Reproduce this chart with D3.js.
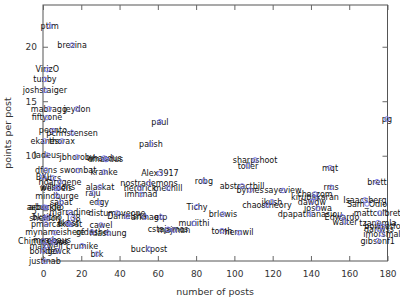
<!DOCTYPE html>
<html><head><meta charset="utf-8">
<script src="https://cdn.jsdelivr.net/npm/d3@7/dist/d3.min.js"></script>
<style>body{margin:0;background:#fff}</style>
</head><body>
<svg id="c" width="400" height="300"></svg>
<script>
const names = ["ptim","brezina","VirizO","tunby","joshstaiger","mabragg","jeydon","fiftyone","pegnto","pchristensen",
"ekanes","thorax","ladeus","jbhoroby","whacdus","rmasdus","dfens","swombat","kranke","BXL",
"vtcs","hoarygene","wllsdons","wellbeis","alaskat","nostrademons","herdrick","mechill","imhmad","mindburge",
"raju","edgy","sabat","arbuckle","arbundio","marradine","distumoveone","Danielsha","arkhag","etp",
"sheldon","bkeitho","138","pmarca","ekost","fkoset","cawel","mynameishere","gfdashe","fdashung",
"Chimmerous","mrmbaus","naraos","maxwell","crumike","borkgo","dewck","brk","justinab","buckpost",
"paul","palish","Alex3917","robg","abstractbill","sharpshoot","toller","byrnes","sayeview","Tichy",
"brlewis","muriithi","tomh","hernwil","cstajames","majman","mqt","rms","chaszom","kirubakaran",
"jkush","chaostheory","dawdw","joshwa","dpapathanasiou","mattculbreth","Edwardo","walter","pg","brett",
"Isaacsberg","Sam_Odio","tzanemla","bowsetfo","danwss","imorsmal","gibsonf1"];
const posts = [3.5,15.2,2.2,1.0,1.0,3.1,17.8,2.1,5.2,15.2,
0.9,9.9,2.1,17.8,31.9,32.9,1.6,18.3,31.9,0.2,
5.2,8.9,7.8,6.8,29.8,55.4,50.7,65.3,51.2,7.3,
26.1,29.3,9.4,0.5,1.6,14.1,38.7,43.9,53.3,61.6,
1.0,2.1,15.7,1.6,13.1,14.1,30.3,6.3,25.6,34.0,
0.2,4.7,5.7,1.6,20.4,0.2,7.8,28.2,1.0,55.4,
61.1,56.4,61.1,84.1,104,110.8,107.1,108.2,125.4,80.5,
94.0,78.9,93.5,102.4,65.3,68.4,150,150.5,142.1,142.1,
119.6,117,140.5,143.7,139.5,176,156.2,157.8,179.7,174.5,
168.2,169.3,175,177.4,175.5,177.1,174.9];
const ppp = [21.9,20.15,17.9,17.0,16.0,14.3,14.3,13.5,12.3,12.1,
11.35,11.35,10.06,9.88,9.79,9.65,8.69,8.64,8.5,8.05,
7.96,7.59,7.08,6.99,7.13,7.45,7.04,7.04,6.44,6.33,
6.58,5.69,5.69,5.29,5.25,4.79,4.74,4.42,4.38,4.38,
4.28,4.37,4.28,3.73,3.78,3.7,3.64,2.94,3.0,2.91,
2.17,2.26,2.08,1.74,1.74,1.28,1.28,0.98,0.32,1.44,
13.12,11.05,8.39,7.68,7.22,9.61,9.08,6.85,6.81,5.32,
4.65,3.8,3.12,2.94,3.25,3.18,8.9,7.1,6.49,6.17,
5.78,5.48,5.78,5.17,4.65,4.74,4.4,3.94,13.37,7.61,
5.94,5.57,3.85,3.49,3.28,2.82,2.2];
const xTicks = [0,20,40,60,80,100,120,140,160,180];
const yTicks = [5,10,15,20];

const svg = d3.select("#c");
const L=43, R=387.5, T=5, B=261;
const x = d3.scaleLinear().domain([0,180]).range([L,R]);
const y = d3.scaleLinear().domain([0.34,23.83]).range([B,T]);

const g = svg.append("g");
g.append("rect").attr("x",L).attr("y",T).attr("width",R-L).attr("height",B-T)
 .attr("fill","none").attr("stroke","#555").attr("stroke-width",1);
const axB = d3.axisBottom(x).tickValues(xTicks).tickSize(-5).tickPadding(10);
const axT = d3.axisTop(x).tickValues(xTicks).tickSize(-5).tickFormat("");
const axL = d3.axisLeft(y).tickValues(yTicks).tickSize(-5).tickPadding(6);
const axR = d3.axisRight(y).tickValues(yTicks).tickSize(-5).tickFormat("");
function style(sel){
  sel.select(".domain").remove();
  sel.selectAll(".tick line").attr("stroke","#666");
  sel.selectAll(".tick text").attr("fill","#333").style("font-family","DejaVu Sans").style("font-size","9px");
}
g.append("g").attr("transform",`translate(0,${B})`).call(axB).call(style);
g.append("g").attr("transform",`translate(0,${T})`).call(axT).call(style);
g.append("g").attr("transform",`translate(${L},0)`).call(axL).call(style);
g.append("g").attr("transform",`translate(${R},0)`).call(axR).call(style);

const data = names.map((n,i)=>({n, px:posts[i], py:ppp[i]}));
g.append("g").selectAll("text").data(data).join("text")
 .attr("x",d=>x(d.px)).attr("y",d=>y(d.py)).attr("dy","0.35em")
 .attr("text-anchor","middle").attr("fill","#111")
 .style("font-family","DejaVu Sans").style("font-size","8px").text(d=>d.n);
g.append("g").selectAll("circle").data(data).join("circle")
 .attr("cx",d=>x(d.px)).attr("cy",d=>y(d.py)).attr("r",2.3)
 .attr("fill","none").attr("stroke","#7b7be8").attr("stroke-width",1);

svg.append("text").attr("x",215).attr("y",295).attr("text-anchor","middle")
 .attr("fill","#333").style("font-family","DejaVu Sans").style("font-size","9.5px").text("number of posts");
svg.append("text").attr("transform","translate(11,133) rotate(-90)").attr("text-anchor","middle")
 .attr("fill","#333").style("font-family","DejaVu Sans").style("font-size","9.5px").text("points per post");
</script>
</body></html>
